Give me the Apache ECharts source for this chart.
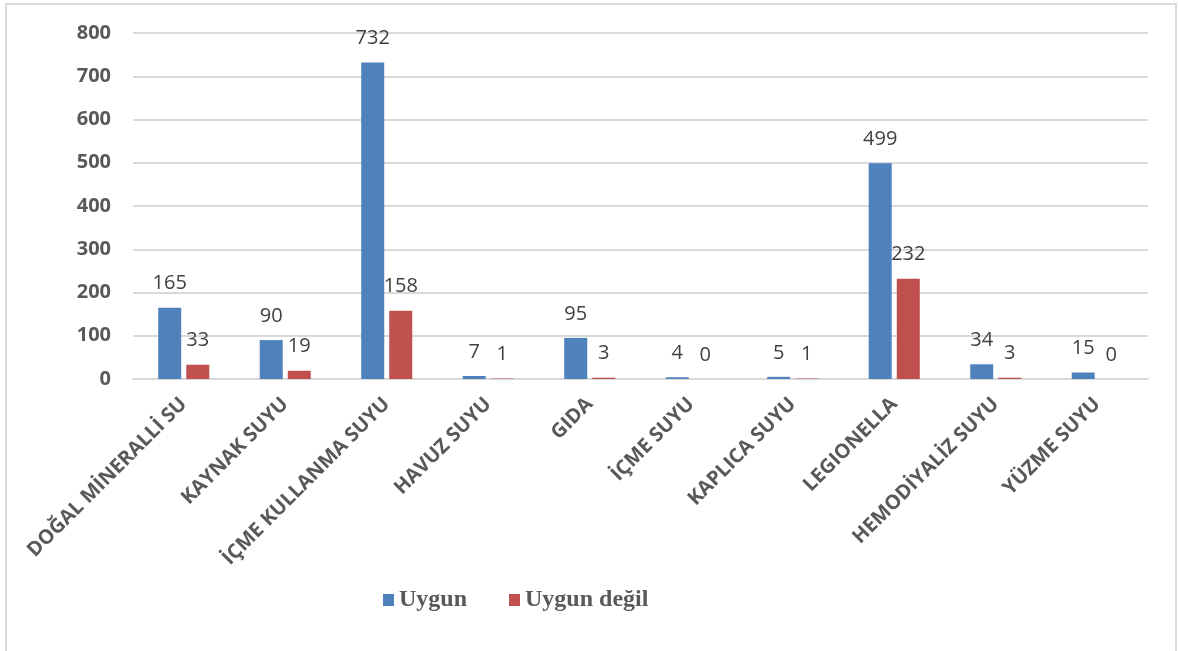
<!DOCTYPE html>
<html>
<head>
<meta charset="utf-8">
<script src="https://cdn.jsdelivr.net/npm/echarts@6/dist/echarts.min.js"></script>
<style>
  html, body { margin: 0; padding: 0; background: #fff; }
  #chart { width: 1178px; height: 651px; }
</style>
</head>
<body>
<div id="chart"></div>
<script>
    // numune türleri
    var categories = ['DOĞAL MİNERALLİ SU', 'KAYNAK SUYU', 'İÇME KULLANMA SUYU', 'HAVUZ SUYU', 'GIDA',
        'İÇME SUYU', 'KAPLICA SUYU', 'LEGIONELLA', 'HEMODİYALİZ SUYU', 'YÜZME SUYU'];
    var uygun = [165, 90, 732, 7, 95, 4, 5, 499, 34, 15];
    var uygunDegil = [33, 19, 158, 1, 3, 0, 1, 232, 3, 0];
    var yTicks = [0, 100, 200, 300, 400, 500, 600, 700, 800];

    var labelStyle = {
        show: true,
        position: 'top',
        distance: 14,
        color: '#404040',
        fontFamily: 'Open Sans',
        fontSize: 20
    };

    var chart = echarts.init(document.getElementById('chart'));
    chart.setOption({
        animation: false,
        graphic: [{
            type: 'rect',
            shape: { x: 6, y: 4, width: 1170, height: 700 },
            style: { fill: 'none', stroke: '#d9d9d9', lineWidth: 2 }
        }],
        grid: { left: 133, right: 30, top: 33, bottom: 272 },
        legend: {
            left: 378,
            top: 583,
            itemWidth: 11,
            itemHeight: 12,
            itemGap: 42,
            icon: 'rect',
            textStyle: { fontFamily: 'Liberation Serif', fontWeight: 'bold', fontSize: 24, color: '#595959' },
            data: ['Uygun', 'Uygun değil']
        },
        xAxis: {
            type: 'category',
            data: categories,
            axisLine: { lineStyle: { color: '#d9d9d9', width: 2 } },
            axisTick: { show: false },
            axisLabel: {
                interval: 0,
                rotate: 45,
                margin: 22,
                color: '#595959',
                fontFamily: 'Open Sans',
                fontWeight: 'bold',
                fontSize: 20
            }
        },
        yAxis: {
            type: 'value',
            min: yTicks[0],
            max: yTicks[yTicks.length - 1],
            interval: 100,
            axisLine: { show: false },
            axisTick: { show: false },
            splitLine: { lineStyle: { color: '#d9d9d9', width: 2 } },
            axisLabel: {
                margin: 22,
                color: '#595959',
                fontFamily: 'Open Sans',
                fontWeight: 'bold',
                fontSize: 20
            }
        },
        series: [{
            name: 'Uygun',
            type: 'bar',
            data: uygun,
            barWidth: 23,
            barGap: '22%',
            itemStyle: { color: '#4f81bd' },
            label: labelStyle
        }, {
            name: 'Uygun değil',
            type: 'bar',
            data: uygunDegil,
            barWidth: 23,
            itemStyle: { color: '#c0504d' },
            label: labelStyle
        }]
    });
</script>
</body>
</html>
